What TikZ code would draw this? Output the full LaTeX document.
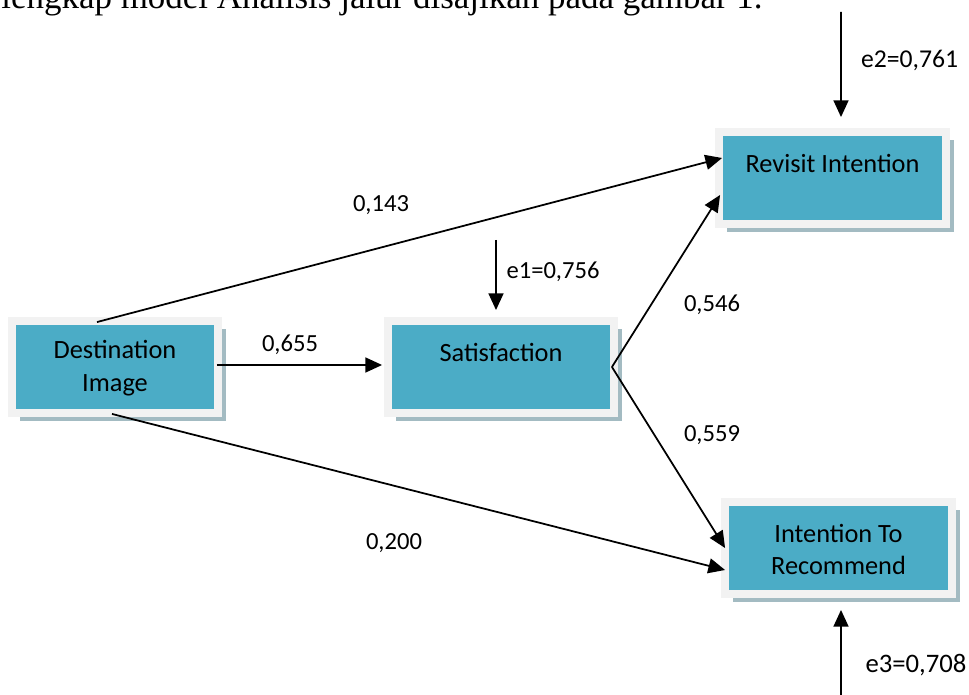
\documentclass[tikz,border=0pt]{standalone}
\usepackage{fontspec}
\setmainfont{Carlito}
\newfontfamily\bodyfont{Liberation Serif}
\usetikzlibrary{positioning, arrows.meta, calc, shadows}
\definecolor{boxteal}{HTML}{4BACC6}
\definecolor{boxrim}{HTML}{F2F2F2}
\definecolor{boxshadow}{HTML}{A3BBC2}

\begin{document}
\begin{tikzpicture}[x=0.02cm, y=-0.02cm,
    box/.style={rectangle, fill=boxteal, draw=boxrim, line width=4.5pt,
                minimum height=1.84cm, align=center, inner sep=0pt,
                font=\fontsize{15}{18.7}\selectfont,
                drop shadow={shadow xshift=4.5pt, shadow yshift=-4.5pt, fill=boxshadow, opacity=1}},
    arrow/.style={-{Triangle[length=9.5pt, width=8.5pt]}, line width=1pt},
    coef/.style={font=\fontsize{14}{16}\selectfont, inner sep=0pt}
]
    \useasboundingbox (0,0) rectangle (969,695);
    \clip (0,0) rectangle (969,695);

    % Body text (cut at the top)
    \node[font=\bodyfont\fontsize{19.9}{24}\selectfont, anchor=base west, inner sep=0pt] (bodyline) at (1,9)
        {lengkap model Analisis jalur disajikan pada gambar 1.};

    % Boxes
    \node[box, minimum width=4.12cm] (dest) at (115,367) {\rule{0pt}{12pt}Destination\\Image};
    \node[box, minimum width=4.52cm] (sat) at (501,367) {\rule{0pt}{12pt}Satisfaction\\\mbox{}};
    \node[box, minimum width=4.54cm] (revisit) at (832.5,178) {\rule{0pt}{12pt}Revisit Intention\\\mbox{}};
    \node[box, minimum width=4.54cm] (recommend) at (838.5,548) {\rule{0pt}{12pt}Intention To\\Recommend};

    % Paths
    \coordinate (split) at ($(sat.east)+(-6,0)$);
    \draw[arrow] ($(dest.north)+(-18,5)$) -- ($(revisit.west)+(7,-20)$);
    \draw[arrow] ($(dest.south)+(-3,-3)$) -- ($(recommend.west)+(4,22)$);
    \draw[arrow] ($(dest.east)+(-5,-2)$) -- ($(sat.west)+(-2,-2)$);
    \draw[arrow] (split) -- ($(revisit.west)+(5,17)$);
    \draw[arrow] (split) -- ($(recommend.west)+(4,0)$);

    % Errors
    \coordinate (e1top) at (496,240);
    \coordinate (e2top) at (841,12);
    \coordinate (e3bot) at (841,695);
    \draw[arrow] (e1top) -- ($(sat.north)+(-5,-7)$);
    \draw[arrow] (e2top) -- ($(revisit.north)+(8.5,-11)$);
    \draw[arrow] (e3bot) -- ($(recommend.south)+(2.5,12)$);

    % Coefficients
    \node[coef] (p143) at (381,205) {0,143};
    \node[coef] (p200) at (394,543) {0,200};
    \node[coef] (p655) at (290,345) {0,655};
    \node[coef] (p546) at (712,305) {0,546};
    \node[coef] (p559) at (712,435) {0,559};
    \node[coef] (e1lab) at (553,272) {e1=0,756};
    \node[coef, font=\fontsize{14.6}{16}\selectfont] (e2lab) at (909.5,60) {e2=0,761};
    \node[coef, font=\fontsize{15.2}{17}\selectfont] (e3lab) at (916,665) {e3=0,708};

\end{tikzpicture}
\end{document}
